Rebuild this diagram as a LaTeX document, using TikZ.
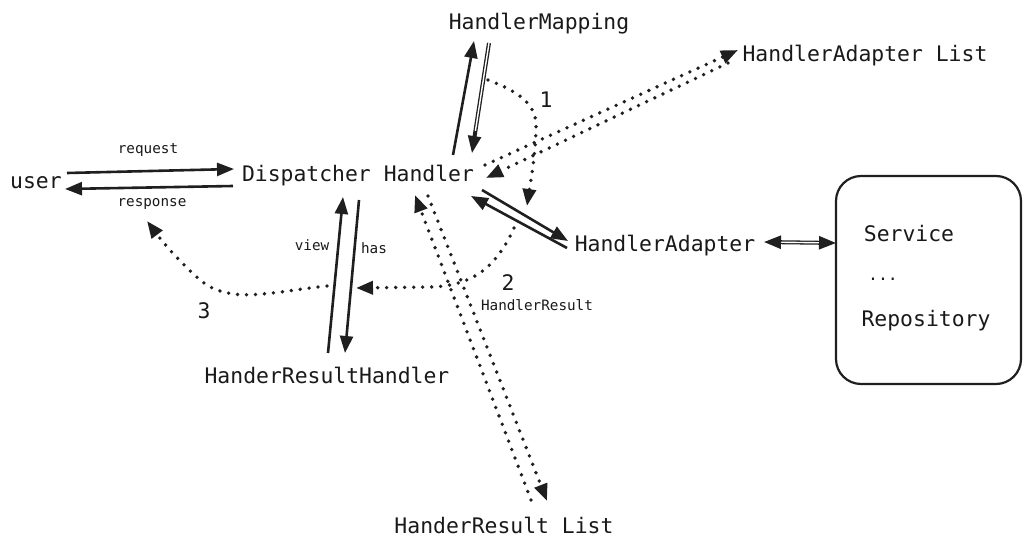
\documentclass[tikz,border=0pt]{standalone}
\usepackage{fontspec}
\setmonofont{DejaVu Sans Mono}
\usetikzlibrary{arrows.meta,calc}
\begin{document}
\begin{tikzpicture}[x=1pt,y=-1pt,
  big/.style={font=\ttfamily\fontsize{21.4}{24}\selectfont, inner sep=0pt, text=black!90},
  small/.style={font=\ttfamily\fontsize{14.3}{16}\selectfont, inner sep=0pt, text=black!90},
  tipA/.tip={Triangle[length=17pt,width=13pt]},
  arr/.style={line width=2.6pt, draw=black!88, -tipA},
  dotarr/.style={line width=3.8pt, draw=black!88, line cap=round, dash pattern=on 0pt off 9pt, -tipA},
  dbl/.style={double=white, double distance=1.4pt, line width=1.3pt, draw=black!88},
  boxstyle/.style={draw=black!88, line width=2.2pt, rounded corners=25pt, minimum width=185pt, minimum height=208pt}
]
\useasboundingbox (0,0) rectangle (1031,548);

% text nodes
\node[big] (user) at (36,183) {user};
\node[small] (request) at (148,150) {request};
\node[small] (response) at (152,204) {response};
\node[big] (disp) at (358,176) {Dispatcher Handler};
\node[big] (hm) at (539,24) {HandlerMapping};
\node[big] (hal) at (865,56) {HandlerAdapter List};
\node[big] (ha) at (665,246) {HandlerAdapter};
\node[big] (hrh) at (327,375) {HanderResultHandler};
\node[big] (hrl) at (504,525) {HanderResult List};
\node[small] (view) at (312,245) {view};
\node[small] (has) at (374,248) {has};
\node[big] (one) at (546,100) {1};
\node[big] (two) at (508,283) {2};
\node[big] (three) at (204,311) {3};
\node[small] (hr) at (537,305) {HandlerResult};
\node[boxstyle] (box) at (928.5,280) {};
\node[big] (service) at (909,234) {Service};
\node[font=\ttfamily\fontsize{16.5}{18}\selectfont, inner sep=0pt, text=black!90] (dots) at (883,279) {...};
\node[big] (repo) at (926,321) {Repository};

% coordinates
\coordinate (reqS) at (67,173);   \coordinate (reqE) at (234,169);
\coordinate (resS) at (233,186);  \coordinate (resE) at (65,189);
\coordinate (hmUpS) at (453,155); \coordinate (hmUpE) at (474,41);
\coordinate (hmDnS) at (489,43);  \coordinate (hmDnE) at (472,153);
\coordinate (oneS) at (488,80);   \coordinate (oneE) at (527,206);
\coordinate (halAS) at (485,165); \coordinate (halAE) at (738,50);
\coordinate (halBS) at (728,63);  \coordinate (halBE) at (486,178);
\coordinate (haAS) at (482,190);  \coordinate (haAE) at (568,241);
\coordinate (haBS) at (567,248);  \coordinate (haBE) at (471,196);
\coordinate (twoS) at (514,228);  \coordinate (twoE) at (356,288);
\coordinate (hrlAS) at (531,500); \coordinate (hrlAE) at (415,195);
\coordinate (hrlBS) at (428,196); \coordinate (hrlBE) at (547,501);
\coordinate (viewS) at (328,353); \coordinate (viewE) at (343,197);
\coordinate (hasS) at (359,200);  \coordinate (hasE) at (345,353);
\coordinate (thrS) at (327,286);  \coordinate (thrE) at (147,221);
\coordinate (svL) at (764,242);   \coordinate (svR) at (836,243);

% user <-> dispatcher
\draw[arr] (reqS) -- (reqE);
\draw[arr] (resS) -- (resE);

% dispatcher <-> handler mapping
\draw[arr] (hmUpS) -- (hmUpE);
\draw[dbl] (hmDnS) -- ($(hmDnS)!0.85!(hmDnE)$);
\draw[arr] ($(hmDnS)!0.8!(hmDnE)$) -- (hmDnE);

% step 1 dotted curve
\draw[dotarr] (oneS) .. controls (520,92) and (538,105) .. (536,130)
  .. controls (535,160) and (530,185) .. (oneE);

% dispatcher <-> handler adapter list
\draw[dotarr] (halAS) -- (halAE);
\draw[dotarr] (halBS) -- (halBE);

% dispatcher <-> handler adapter
\draw[arr] (haAS) -- (haAE);
\draw[arr] (haBS) -- (haBE);

% step 2 dotted curve
\draw[dotarr] (twoS) .. controls (495,270) and (470,286) .. (430,287) -- (twoE);

% dispatcher <-> handler result list
\draw[dotarr] (hrlAS) -- (hrlAE);
\draw[dotarr] (hrlBS) -- (hrlBE);

% view / has
\draw[arr] (viewS) -- (viewE);
\draw[arr] (hasS) -- (hasE);

% step 3 dotted curve
\draw[dotarr] (thrS) .. controls (270,292) and (230,305) .. (200,280)
  .. controls (180,262) and (165,245) .. (thrE);

% handler adapter <-> service box
\draw[dbl] ($(svL)!0.15!(svR)$) -- ($(svL)!0.85!(svR)$);
\draw[arr] ($(svL)!0.22!(svR)$) -- (svL);
\draw[arr] ($(svL)!0.78!(svR)$) -- (svR);
\end{tikzpicture}
\end{document}
